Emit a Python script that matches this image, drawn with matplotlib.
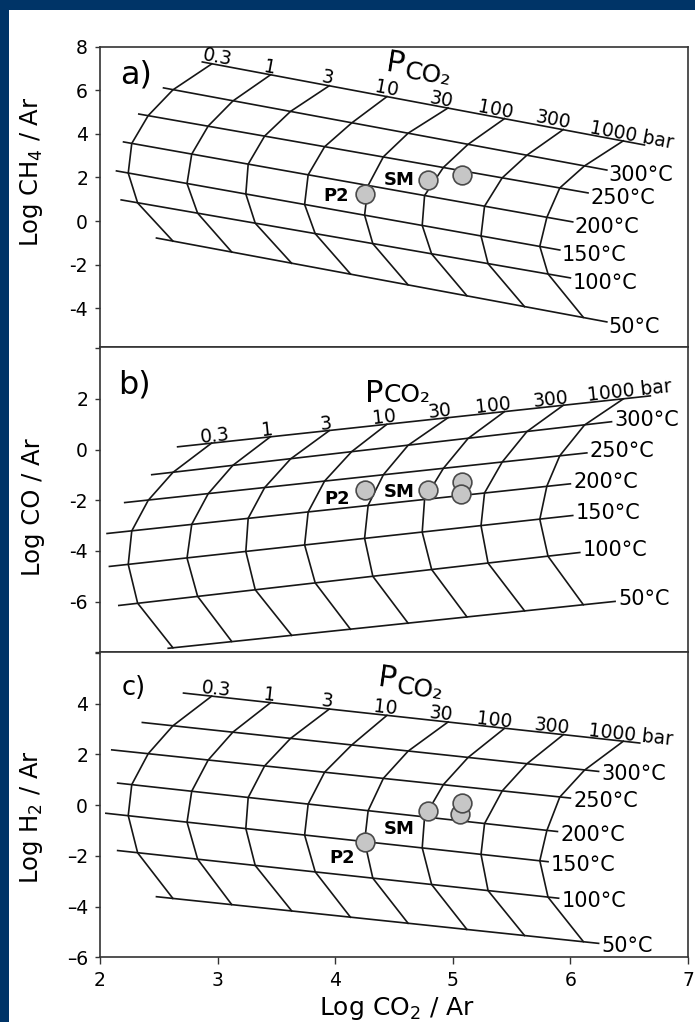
import numpy as np
import matplotlib.pyplot as plt
from matplotlib.patches import Rectangle

plt.rcParams['font.family'] = 'DejaVu Sans'

p_labels = ['0.3', '1', '3', '10', '30', '100', '300', '1000 bar']
t_labels = ['', '300°C', '250°C', '200°C', '150°C', '100°C', '50°C']

# log CO2/Ar at the grid nodes
# rows: top isotherm, 300, 250, 200, 150, 100, 50 C ; columns: PCO2 0.3 ... 1000 bar
co2_grid = [
    [2.95, 3.45, 3.95, 4.44, 4.96, 5.44, 5.94, 6.45],
    [2.62, 3.13, 3.62, 4.14, 4.62, 5.13, 5.63, 6.12],
    [2.41, 2.92, 3.40, 3.91, 4.41, 4.92, 5.42, 5.91],
    [2.27, 2.78, 3.26, 3.77, 4.28, 4.76, 5.27, 5.80],
    [2.24, 2.74, 3.24, 3.74, 4.25, 4.74, 5.24, 5.74],
    [2.32, 2.83, 3.32, 3.83, 4.32, 4.82, 5.30, 5.81],
    [2.62, 3.12, 3.63, 4.13, 4.62, 5.12, 5.61, 6.11],
]

# a) log CH4/Ar
ch4_grid = [
    [7.21, 6.71, 6.21, 5.71, 5.19, 4.70, 4.20, 3.68],
    [6.02, 5.51, 5.03, 4.50, 4.03, 3.52, 3.02, 2.53],
    [4.84, 4.36, 3.90, 3.41, 2.95, 2.46, 1.98, 1.52],
    [3.56, 3.07, 2.61, 2.12, 1.63, 1.17, 0.68, 0.17],
    [2.20, 1.72, 1.24, 0.76, 0.27, -0.20, -0.68, -1.16],
    [0.83, 0.36, -0.10, -0.58, -1.04, -1.51, -1.96, -2.43],
    [-0.92, -1.42, -1.94, -2.43, -2.93, -3.43, -3.93, -4.42],
]
ch4_left = [(2.87, 7.30), (2.54, 6.11), (2.33, 4.91), (2.20, 3.63),
            (2.14, 2.30), (2.18, 0.97), (2.48, -0.78)]
ch4_right = [(6.63, 3.49), (6.31, 2.34), (6.15, 1.29), (6.02, -0.04),
             (5.91, -1.33), (6.00, -2.61), (6.31, -4.63)]
ch4_sx = [4.25, 4.79, 5.08]
ch4_sy = [1.24, 1.89, 2.11]
ch4_tags = [('P2', 4.01, 1.15), ('SM', 4.54, 1.89)]

# b) log CO/Ar
co_grid = [
    [0.26, 0.51, 0.75, 1.00, 1.26, 1.50, 1.75, 2.00],
    [-0.90, -0.62, -0.37, -0.08, 0.17, 0.44, 0.71, 0.97],
    [-2.00, -1.74, -1.50, -1.24, -0.99, -0.74, -0.49, -0.24],
    [-3.21, -2.95, -2.71, -2.46, -2.20, -1.96, -1.71, -1.44],
    [-4.53, -4.28, -4.02, -3.76, -3.50, -3.26, -3.00, -2.75],
    [-6.06, -5.79, -5.53, -5.26, -5.00, -4.73, -4.48, -4.21],
    [-7.82, -7.57, -7.33, -7.09, -6.85, -6.60, -6.36, -6.12],
]
co_left = [(2.66, 0.11), (2.44, -0.99), (2.21, -2.09), (2.06, -3.31),
           (2.08, -4.61), (2.16, -6.15), (2.58, -7.84)]
co_right = [(6.68, 2.12), (6.35, 1.10), (6.14, -0.13), (6.00, -1.35),
            (6.02, -2.60), (6.08, -4.06), (6.38, -5.99)]
co_sx = [4.25, 4.79, 5.08, 5.07]
co_sy = [-1.58, -1.58, -1.29, -1.75]
co_tags = [('P2', 4.02, -1.93), ('SM', 4.54, -1.66)]

# c) log H2/Ar
h2_grid = [
    [4.30, 4.04, 3.79, 3.54, 3.28, 3.03, 2.78, 2.52],
    [3.13, 2.88, 2.63, 2.37, 2.13, 1.88, 1.63, 1.38],
    [2.03, 1.78, 1.55, 1.30, 1.06, 0.81, 0.56, 0.32],
    [0.81, 0.55, 0.30, 0.04, -0.22, -0.47, -0.73, -1.00],
    [-0.41, -0.67, -0.92, -1.18, -1.43, -1.68, -1.94, -2.19],
    [-1.88, -2.13, -2.38, -2.63, -2.88, -3.13, -3.37, -3.63],
    [-3.68, -3.92, -4.17, -4.42, -4.66, -4.90, -5.14, -5.38],
]
h2_left = [(2.71, 4.42), (2.36, 3.26), (2.10, 2.18), (2.15, 0.87),
           (2.05, -0.32), (2.15, -1.79), (2.48, -3.61)]
h2_right = [(6.59, 2.45), (6.24, 1.33), (6.00, 0.28), (5.89, -1.04),
            (5.81, -2.23), (5.90, -3.67), (6.24, -5.45)]
h2_sx = [4.25, 4.79, 5.06, 5.08]
h2_sy = [-1.45, -0.22, -0.35, 0.10]
h2_tags = [('P2', 4.06, -2.08), ('SM', 4.54, -0.94)]

panels = [
    dict(ys=ch4_grid, left=ch4_left, right=ch4_right, sx=ch4_sx, sy=ch4_sy, tags=ch4_tags,
         rect=[0.1439, 0.6605, 0.846, 0.2938], ylim=(-5.78, 8),
         yticks=[-4, -2, 0, 2, 4, 6, 8], yticklabels=['-4', '-2', '0', '2', '4', '6', '8'],
         ylabel='Log CH$_4$ / Ar', ylab_y=0.583, letter='a)', letter_xy=(0.034, 0.906), letter_size=23,
         pco2=(4.58, 6.76), pco2_rot=-9, pco2_drop=4, t_off=(2, -5)),
    dict(ys=co_grid, left=co_left, right=co_right, sx=co_sx, sy=co_sy, tags=co_tags,
         rect=[0.1439, 0.3617, 0.846, 0.2988], ylim=(-8, 4.05),
         yticks=[-8, -6, -4, -2, 0, 2, 4], yticklabels=['', '-6', '-4', '-2', '0', '2', ''],
         ylabel='Log CO / Ar', ylab_y=0.475, letter='b)', letter_xy=(0.031, 0.876), letter_size=23,
         pco2=(4.41, 1.89), pco2_rot=0, pco2_drop=0, t_off=(3, 2)),
    dict(ys=h2_grid, left=h2_left, right=h2_right, sx=h2_sx, sy=h2_sy, tags=h2_tags,
         rect=[0.1439, 0.0633, 0.846, 0.299], ylim=(-6, 6.05),
         yticks=[-6, -4, -2, 0, 2, 4, 6], yticklabels=['–6', '–4', '–2', '0', '2', '4', ''],
         ylabel='Log H$_2$ / Ar', ylab_y=0.459, letter='c)', letter_xy=(0.037, 0.881), letter_size=18.5,
         pco2=(4.51, 4.60), pco2_rot=-8, pco2_drop=5, t_off=(3, -3)),
]

# shift of each pressure label along the top isotherm, in pixels
p_shift = [4, -2, -3, -2, -8, -11, -12, 7]
navy = '#003467'
line_kw = dict(color='#161616', lw=1.2, solid_joinstyle='miter')

fig = plt.figure(figsize=(6.95, 10.22), dpi=100)
fig.patches.append(Rectangle((0, 0), 9 / 695, 1, transform=fig.transFigure,
                             facecolor=navy, edgecolor='none', zorder=-5))
fig.patches.append(Rectangle((0, 1 - 10 / 1022), 1, 10 / 1022, transform=fig.transFigure,
                             facecolor=navy, edgecolor='none', zorder=-5))

xs = np.array(co2_grid)
axs = []
for k, p in enumerate(panels):
    ax = fig.add_axes(p['rect'])
    axs.append(ax)
    ax.set_xlim(2, 7)
    ax.set_ylim(*p['ylim'])
    ys = np.array(p['ys'])

    # isotherms
    for (x0, y0), (x1, y1) in zip(p['left'], p['right']):
        ax.plot([x0, x1], [y0, y1], **line_kw)
    # isobars
    for j in range(xs.shape[1]):
        ax.plot(xs[:, j], ys[:, j], **line_kw)

    # pressure labels follow the top isotherm
    a0 = ax.transData.transform(p['left'][0])
    a1 = ax.transData.transform(p['right'][0])
    ang = np.degrees(np.arctan2(a1[1] - a0[1], a1[0] - a0[0]))
    c, s = np.cos(np.radians(ang)), np.sin(np.radians(ang))
    for j, lab in enumerate(p_labels):
        d = p_shift[j] * 0.72
        up = 1.2
        ax.annotate(lab, (xs[0, j], ys[0, j]), xytext=(d * c - up * s, d * s + up * c),
                    textcoords='offset points', rotation=ang, rotation_mode='anchor',
                    ha='center', va='baseline', fontsize=13.5)

    # temperature labels at the right ends
    for i in range(1, len(t_labels)):
        ax.annotate(t_labels[i], p['right'][i],
                    xytext=(p['t_off'][0] * 0.72, p['t_off'][1] * 0.72),
                    textcoords='offset points', ha='left', va='center', fontsize=15)

    # P CO2 heading
    r = p['pco2_rot']
    rs, rc = np.sin(np.radians(r)), np.cos(np.radians(r))
    ax.annotate('P', p['pco2'], rotation=r, rotation_mode='anchor',
                ha='right', va='baseline', fontsize=22)
    dd = p['pco2_drop'] * 0.72
    ax.annotate('CO₂', p['pco2'], xytext=(dd * rs + 0.5, -dd * rc), textcoords='offset points',
                rotation=r, rotation_mode='anchor', ha='left', va='baseline', fontsize=18)

    # samples
    ax.plot(p['sx'], p['sy'], 'o', ms=13.5, mfc='#c6c6c6', mec='#4a4a4a', mew=1.2,
            ls='none', zorder=5)
    for lab, tx, ty in p['tags']:
        ax.text(tx, ty, lab, fontsize=13, fontweight='bold', ha='center', va='center')

    ax.text(p['letter_xy'][0], p['letter_xy'][1], p['letter'], transform=ax.transAxes,
            ha='left', va='center', fontsize=p['letter_size'])

    ax.set_yticks(p['yticks'], p['yticklabels'])
    ax.tick_params(axis='y', direction='out', length=3.6, width=1.0, pad=5,
                   labelsize=13.5, color='#333333')
    ax.set_ylabel(p['ylabel'], fontsize=17.5)
    ax.yaxis.set_label_coords(-0.094, p['ylab_y'])
    for sp in ax.spines.values():
        sp.set_linewidth(1.2)
        sp.set_color('#333333')

    if k < 2:
        ax.set_xticks([])
    else:
        ax.set_xticks([2, 3, 4, 5, 6, 7])
        ax.tick_params(axis='x', direction='out', length=5, width=1.0, pad=5,
                       labelsize=13.5, color='#333333')
        ax.set_xlabel('Log CO$_2$ / Ar', fontsize=18)
        ax.xaxis.set_label_coords(0.505, -0.122)

fig.savefig('out.png', dpi=100)
